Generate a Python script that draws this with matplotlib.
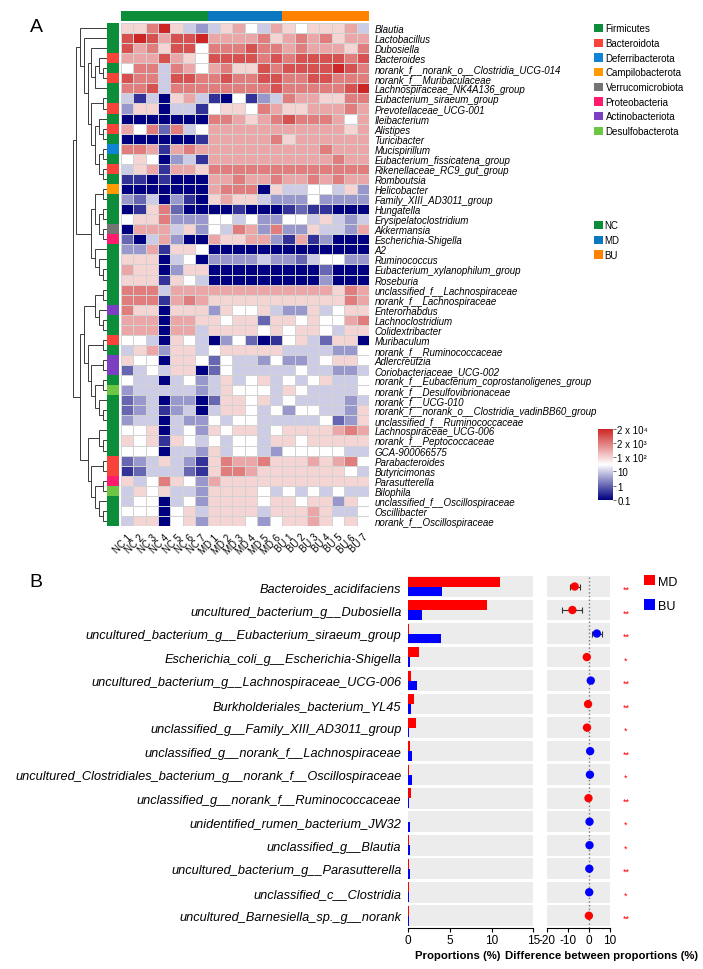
import numpy as np
import matplotlib.pyplot as plt
from matplotlib.colors import LinearSegmentedColormap, ListedColormap
from matplotlib.patches import Patch
from matplotlib.transforms import blended_transform_factory

plt.rcParams['font.family'] = ['Liberation Sans', 'DejaVu Sans']
plt.rcParams['axes.unicode_minus'] = False

W, H = 703, 970

# ---------------- panel A data ----------------
samples = ['NC 1', 'NC 2', 'NC 3', 'NC 4', 'NC 5', 'NC 6', 'NC 7',
           'MD 1', 'MD 2', 'MD 3', 'MD 4', 'MD 5', 'MD 6',
           'BU 1', 'BU 2', 'BU 3', 'BU 4', 'BU 5', 'BU 6', 'BU 7']
sample_group = ['NC'] * 7 + ['MD'] * 6 + ['BU'] * 7
groups = ['NC', 'MD', 'BU']
group_colors = ['#0b8d3a', '#0a77bf', '#ff8200']

genera = [
    'Blautia', 'Lactobacillus', 'Dubosiella', 'Bacteroides',
    'norank_f__norank_o__Clostridia_UCG-014', 'norank_f__Muribaculaceae',
    'Lachnospiraceae_NK4A136_group', 'Eubacterium_siraeum_group',
    'Prevotellaceae_UCG-001', 'Ileibacterium', 'Alistipes', 'Turicibacter',
    'Mucispirillum', 'Eubacterium_fissicatena_group', 'Rikenellaceae_RC9_gut_group',
    'Romboutsia', 'Helicobacter', 'Family_XIII_AD3011_group', 'Hungatella',
    'Erysipelatoclostridium', 'Akkermansia', 'Escherichia-Shigella', 'A2',
    'Ruminococcus', 'Eubacterium_xylanophilum_group', 'Roseburia',
    'unclassified_f__Lachnospiraceae', 'norank_f__Lachnospiraceae',
    'Enterorhabdus', 'Lachnoclostridium', 'Colidextribacter', 'Muribaculum',
    'norank_f__Ruminococcaceae', 'Adlercreutzia', 'Coriobacteriaceae_UCG-002',
    'norank_f__Eubacterium_coprostanoligenes_group', 'norank_f__Desulfovibrionaceae',
    'norank_f__UCG-010', 'norank_f__norank_o__Clostridia_vadinBB60_group',
    'unclassified_f__Ruminococcaceae', 'Lachnospiraceae_UCG-006',
    'norank_f__Peptococcaceae', 'GCA-900066575', 'Parabacteroides',
    'Butyricimonas', 'Parasutterella', 'Bilophila',
    'unclassified_f__Oscillospiraceae', 'Oscillibacter', 'norank_f__Oscillospiraceae',
]

phyla = ['Firmicutes', 'Bacteroidota', 'Deferribacterota', 'Campilobacterota',
         'Verrucomicrobiota', 'Proteobacteria', 'Actinobacteriota', 'Desulfobacterota']
phylum_colors = ['#0b8d3a', '#f8433a', '#0f84d4', '#ff9a00',
                 '#747474', '#ff1a6e', '#7b3fc2', '#6cc644']
# phylum index per genus (0 = Firmicutes ...)
genus_phylum = [0, 0, 0, 1, 0, 1, 0, 0, 1, 0,
                1, 0, 2, 0, 1, 0, 3, 0, 0, 0,
                4, 5, 0, 0, 0, 0, 0, 0, 6, 0,
                0, 1, 0, 6, 6, 0, 7, 0, 0, 0,
                0, 0, 0, 1, 1, 5, 7, 0, 0, 0]

# colour level per cell, 0 (0.1) .. 10 (2 x 10^4)
abund_level = [
    [6, 6, 8, 10, 6, 4, 3, 4, 6, 7, 5, 4, 7, 6, 5, 6, 6, 6, 7, 4],
    [9, 10, 9, 7, 9, 9, 10, 7, 7, 7, 7, 8, 6, 7, 8, 7, 8, 6, 7, 7],
    [9, 7, 8, 6, 9, 9, 5, 8, 8, 8, 9, 8, 8, 7, 8, 7, 7, 7, 6, 8],
    [7, 7, 7, 9, 7, 6, 5, 9, 9, 9, 9, 8, 9, 8, 9, 9, 9, 9, 8, 9],
    [5, 8, 8, 4, 8, 7, 5, 7, 8, 6, 6, 9, 8, 9, 9, 9, 9, 10, 9, 8],
    [9, 8, 8, 4, 9, 9, 8, 8, 9, 8, 8, 9, 9, 8, 8, 9, 9, 8, 8, 8],
    [8, 8, 9, 4, 8, 8, 8, 8, 8, 8, 8, 8, 9, 8, 8, 8, 8, 8, 9, 10],
    [4, 1, 4, 0, 6, 7, 4, 1, 0, 5, 1, 3, 4, 8, 7, 7, 6, 6, 8, 8],
    [3, 6, 6, 0, 4, 4, 1, 5, 6, 6, 5, 8, 7, 6, 6, 7, 7, 7, 8, 7],
    [0, 0, 0, 0, 0, 0, 0, 8, 8, 7, 6, 7, 8, 9, 8, 8, 8, 7, 5, 7],
    [7, 5, 8, 2, 8, 4, 5, 7, 7, 7, 7, 7, 7, 7, 7, 7, 7, 7, 6, 7],
    [0, 0, 0, 0, 0, 0, 1, 7, 7, 7, 7, 7, 8, 6, 7, 7, 7, 7, 7, 7],
    [8, 8, 7, 1, 7, 8, 7, 7, 7, 7, 7, 7, 7, 7, 7, 7, 8, 7, 7, 7],
    [5, 6, 5, 0, 3, 4, 1, 7, 7, 7, 7, 7, 7, 7, 7, 7, 7, 8, 7, 7],
    [4, 6, 7, 1, 7, 7, 6, 8, 8, 8, 8, 8, 8, 8, 8, 8, 8, 8, 8, 8],
    [1, 1, 0, 1, 0, 0, 0, 7, 7, 8, 7, 7, 8, 7, 7, 8, 7, 8, 7, 7],
    [0, 0, 0, 0, 0, 0, 0, 7, 8, 8, 8, 0, 6, 4, 4, 5, 5, 4, 6, 3],
    [3, 2, 4, 0, 3, 1, 0, 6, 7, 6, 6, 4, 3, 3, 3, 5, 3, 3, 3, 3],
    [0, 1, 6, 8, 2, 0, 0, 0, 0, 1, 0, 0, 0, 1, 2, 1, 1, 0, 0, 0],
    [5, 6, 6, 8, 3, 3, 3, 5, 5, 4, 5, 3, 3, 5, 5, 4, 6, 4, 3, 4],
    [0, 7, 7, 7, 4, 6, 3, 5, 4, 8, 7, 3, 8, 3, 3, 6, 4, 4, 3, 7],
    [2, 0, 4, 7, 3, 0, 0, 7, 6, 6, 7, 7, 3, 1, 7, 1, 3, 0, 0, 0],
    [3, 3, 7, 1, 6, 6, 5, 0, 0, 0, 0, 0, 0, 0, 0, 0, 0, 0, 0, 0],
    [6, 6, 6, 0, 4, 5, 0, 3, 3, 3, 3, 4, 3, 3, 2, 4, 5, 5, 3, 3],
    [7, 6, 6, 0, 3, 6, 6, 0, 0, 0, 0, 0, 0, 0, 0, 0, 2, 0, 0, 0],
    [6, 6, 6, 1, 6, 5, 4, 0, 0, 0, 0, 0, 0, 0, 0, 0, 3, 0, 0, 0],
    [8, 8, 8, 4, 7, 7, 7, 7, 7, 7, 7, 7, 7, 7, 7, 7, 7, 6, 8, 7],
    [8, 8, 8, 1, 7, 8, 7, 6, 6, 6, 6, 6, 6, 6, 6, 6, 6, 6, 8, 7],
    [8, 6, 6, 0, 6, 6, 6, 3, 6, 5, 5, 6, 4, 3, 3, 6, 4, 5, 6, 6],
    [7, 7, 7, 0, 7, 7, 6, 6, 5, 6, 6, 2, 6, 6, 5, 6, 5, 5, 7, 8],
    [7, 7, 7, 0, 7, 7, 4, 6, 6, 6, 6, 5, 6, 5, 6, 6, 5, 4, 6, 6],
    [5, 5, 4, 0, 6, 5, 4, 0, 3, 5, 2, 0, 1, 5, 6, 4, 2, 6, 6, 0],
    [4, 6, 7, 3, 6, 6, 4, 5, 6, 6, 6, 6, 6, 4, 4, 4, 4, 3, 3, 5],
    [6, 5, 5, 0, 6, 6, 5, 2, 5, 4, 4, 3, 5, 3, 3, 4, 5, 6, 6, 5],
    [2, 4, 5, 4, 6, 6, 0, 2, 5, 4, 4, 4, 4, 4, 5, 4, 4, 3, 3, 4],
    [5, 4, 4, 0, 4, 5, 3, 4, 6, 4, 5, 6, 4, 5, 4, 5, 6, 4, 4, 5],
    [3, 4, 4, 4, 4, 4, 3, 4, 6, 5, 5, 5, 4, 6, 5, 4, 4, 4, 4, 5],
    [2, 3, 4, 0, 3, 3, 0, 2, 6, 6, 5, 6, 4, 5, 4, 4, 4, 4, 3, 4],
    [2, 3, 4, 1, 3, 4, 0, 4, 6, 6, 5, 4, 5, 3, 5, 5, 4, 4, 3, 6],
    [3, 4, 4, 0, 4, 3, 3, 5, 4, 5, 5, 4, 4, 4, 4, 4, 5, 2, 3, 6],
    [5, 5, 6, 0, 4, 5, 3, 6, 5, 6, 6, 4, 5, 6, 6, 6, 6, 7, 8, 7],
    [6, 5, 6, 1, 6, 5, 4, 5, 4, 5, 5, 4, 6, 6, 5, 6, 6, 6, 6, 6],
    [5, 5, 5, 0, 4, 4, 3, 6, 4, 5, 5, 4, 3, 5, 5, 5, 5, 5, 4, 4],
    [2, 3, 4, 6, 4, 3, 1, 6, 8, 7, 7, 8, 6, 6, 6, 7, 6, 7, 8, 5],
    [1, 2, 4, 4, 4, 2, 1, 6, 8, 8, 7, 6, 6, 6, 6, 6, 6, 6, 5, 4],
    [6, 4, 5, 8, 6, 5, 3, 7, 6, 6, 6, 6, 6, 6, 6, 6, 6, 6, 6, 6],
    [4, 6, 5, 6, 4, 4, 3, 6, 6, 6, 6, 5, 4, 5, 4, 5, 4, 5, 4, 4],
    [4, 5, 5, 0, 4, 5, 3, 6, 6, 6, 6, 5, 6, 6, 5, 6, 6, 3, 6, 5],
    [5, 5, 5, 0, 5, 6, 4, 6, 6, 6, 6, 4, 6, 6, 6, 7, 6, 4, 4, 5],
    [4, 6, 6, 0, 5, 6, 3, 6, 6, 6, 5, 3, 5, 6, 6, 7, 6, 5, 6, 5],
]
cbar_labels = ['0.1', '1', '10', '1 x 10\u00b2', '2 x 10\u00b3', '2 x 10\u2074']

# row clustering (leaf = row index)
tree_a = (0, (1, ((2, ((3, (4, 5)), 6)), ((7, 8), ((9, (10, 11)), ((12, 13), (14, 15)))))))
tree_b = (((16, 17), ((18, 19), (20, 21))), (22, (23, (24, 25))))
tree_d = ((((26, 27), (28, (29, 30))), ((31, 32), ((33, 34), ((35, 36), (37, (38, 39)))))),
          ((40, (41, 42)), ((43, 44), ((45, 46), (47, (48, 49))))))
row_tree = ((tree_a, tree_b), tree_d)

# ---------------- panel B data ----------------
taxa_b = [
    'Bacteroides_acidifaciens',
    'uncultured_bacterium_g__Dubosiella',
    'uncultured_bacterium_g__Eubacterium_siraeum_group',
    'Escherichia_coli_g__Escherichia-Shigella',
    'uncultured_bacterium_g__Lachnospiraceae_UCG-006',
    'Burkholderiales_bacterium_YL45',
    'unclassified_g__Family_XIII_AD3011_group',
    'unclassified_g__norank_f__Lachnospiraceae',
    'uncultured_Clostridiales_bacterium_g__norank_f__Oscillospiraceae',
    'unclassified_g__norank_f__Ruminococcaceae',
    'unidentified_rumen_bacterium_JW32',
    'unclassified_g__Blautia',
    'uncultured_bacterium_g__Parasutterella',
    'unclassified_c__Clostridia',
    'uncultured_Barnesiella_sp._g__norank',
]
prop_md = [11.0, 9.5, 0.05, 1.3, 0.3, 0.65, 0.9, 0.2, 0.05, 0.35, 0.02, 0.03, 0.05, 0.03, 0.1]
prop_bu = [4.1, 1.7, 3.9, 0.15, 1.05, 0.3, 0.05, 0.5, 0.45, 0.05, 0.25, 0.2, 0.15, 0.05, 0.03]
diff_mean = [-6.9, -8.0, 3.7, -1.1, 0.8, -0.5, -1.0, 0.5, 0.4, -0.3, 0.2, 0.2, 0.1, 0.05, -0.1]
diff_low = [-9.3, -13.2, 1.4, -1.6, 0.4, -0.9, -1.5, 0.3, 0.2, -0.5, 0.1, 0.1, 0.0, 0.0, -0.2]
diff_high = [-4.5, -3.3, 6.4, -0.6, 1.2, -0.1, -0.5, 0.7, 0.6, -0.1, 0.3, 0.3, 0.2, 0.1, 0.0]
signif = ['**', '**', '**', '*', '**', '**', '*', '**', '*', '**', '*', '*', '**', '*', '**']


def px_axes(fig, x0, y0, x1, y1):
    return fig.add_axes([x0 / W, 1 - y1 / H, (x1 - x0) / W, (y1 - y0) / H])


def draw_tree(ax, node):
    if isinstance(node, int):
        return node, 0
    y1, h1 = draw_tree(ax, node[0])
    y2, h2 = draw_tree(ax, node[1])
    h = max(h1, h2) + 1
    ax.plot([h1, h, h, h2], [y1, y1, y2, y2], color='#3a3a3a', lw=0.7,
            solid_joinstyle='miter')
    return (y1 + y2) / 2, h


fig = plt.figure(figsize=(W / 100, H / 100), dpi=100)

# ---- heatmap ----
n_rows, n_cols = len(genera), len(samples)
vals = np.array(abund_level, dtype=float) / 2
cmap = LinearSegmentedColormap.from_list('nwr', ['#000080', '#ffffff', '#cd2626'])

ax_hm = px_axes(fig, 120.7, 24, 369, 527)
mesh = ax_hm.pcolormesh(np.arange(n_cols + 1) - 0.5, np.arange(n_rows + 1) - 0.5, vals,
                        cmap=cmap, vmin=0, vmax=5, edgecolors='#d2d2d2', linewidth=0.5)
ax_hm.set_xlim(-0.5, n_cols - 0.5)
ax_hm.set_ylim(n_rows - 0.5, -0.5)
ax_hm.yaxis.tick_right()
ax_hm.set_yticks(np.arange(n_rows))
ax_hm.set_yticklabels(genera, fontsize=7, style='italic')
ax_hm.set_xticks(np.arange(n_cols))
ax_hm.set_xticklabels(samples, fontsize=7, rotation=45, ha='right', va='top',
                      rotation_mode='anchor')
ax_hm.tick_params(length=0, pad=4)
for s in ax_hm.spines.values():
    s.set_visible(False)

# column annotation
ax_col = px_axes(fig, 120.7, 11.7, 369, 21.7)
col_codes = np.array([[groups.index(g) for g in sample_group]])
ax_col.pcolormesh(np.arange(n_cols + 1) - 0.5, [0, 1], col_codes,
                  cmap=ListedColormap(group_colors), vmin=-0.5, vmax=2.5)
ax_col.set_xlim(-0.5, n_cols - 0.5)
ax_col.axis('off')

# row annotation
ax_row = px_axes(fig, 107, 24, 118.5, 527)
ax_row.pcolormesh([0, 1], np.arange(n_rows + 1) - 0.5, np.array(genus_phylum)[:, None],
                  cmap=ListedColormap(phylum_colors), vmin=-0.5, vmax=len(phyla) - 0.5)
ax_row.set_ylim(n_rows - 0.5, -0.5)
ax_row.axis('off')

# dendrogram
ax_den = px_axes(fig, 72.5, 24, 106.5, 527)
_, root_h = draw_tree(ax_den, row_tree)
ax_den.set_xlim(root_h, 0)
ax_den.set_ylim(n_rows - 0.5, -0.5)
ax_den.axis('off')

# legends
fig.legend(handles=[Patch(facecolor=c, label=p) for p, c in zip(phyla, phylum_colors)],
           loc='upper left', bbox_to_anchor=(594 / W, 1 - 24.5 / H), frameon=False,
           fontsize=7, handlelength=0.95, handleheight=0.95, handletextpad=0.25,
           labelspacing=0.48, borderpad=0, borderaxespad=0)
fig.legend(handles=[Patch(facecolor=c, label=g) for g, c in zip(groups, group_colors)],
           loc='upper left', bbox_to_anchor=(594 / W, 1 - 221.5 / H), frameon=False,
           fontsize=7, handlelength=0.95, handleheight=0.95, handletextpad=0.15,
           labelspacing=0.48, borderpad=0, borderaxespad=0)

cax = px_axes(fig, 598.3, 430, 613.3, 500.7)
cb = fig.colorbar(mesh, cax=cax, ticks=np.arange(6))
cb.ax.set_yticklabels(cbar_labels, fontsize=7)
cb.ax.tick_params(length=2, width=0.6, pad=1, color='#555555')
cb.outline.set_visible(False)

fig.text(36 / W, 1 - 27 / H, 'A', fontsize=14, ha='center', va='center')

# ---- panel B ----
n_b = len(taxa_b)
ypos = np.arange(n_b)
band = '#ececec'

ax_bar = px_axes(fig, 408.3, 575.75, 533.3, 928.5)
for y in ypos:
    ax_bar.axhspan(y - 0.44, y + 0.44, color=band, lw=0, zorder=0)
ax_bar.barh(ypos - 0.21, prop_md, height=0.42, color='#ff0000', zorder=2)
ax_bar.barh(ypos + 0.21, prop_bu, height=0.42, color='#0000ff', zorder=2)
ax_bar.set_xlim(0, 15)
ax_bar.set_ylim(n_b - 0.5, -0.5)
ax_bar.set_yticks(ypos)
ax_bar.set_yticklabels(taxa_b, fontsize=9.2, style='italic')
ax_bar.set_xticks([0, 5, 10, 15])
ax_bar.tick_params(axis='y', length=0, pad=5)
ax_bar.tick_params(axis='x', labelsize=8.5, length=3, width=0.8, pad=2)
for s in ['top', 'right', 'left']:
    ax_bar.spines[s].set_visible(False)

ax_dot = px_axes(fig, 547.3, 575.75, 610, 928.5)
for y in ypos:
    ax_dot.axhspan(y - 0.44, y + 0.44, color=band, lw=0, zorder=0)
ax_dot.axvline(0, color='#777777', ls=':', lw=1, zorder=1)
dm = np.array(diff_mean)
xerr = [dm - np.array(diff_low), np.array(diff_high) - dm]
ax_dot.errorbar(dm, ypos, xerr=xerr, fmt='none', ecolor='#333333', elinewidth=0.8,
                capsize=2, capthick=0.8, zorder=2)
dot_colors = ['#ff0000' if d < 0 else '#0000ff' for d in diff_mean]
ax_dot.scatter(dm, ypos, s=36, c=dot_colors, zorder=3, linewidths=0)
ax_dot.set_xlim(-20, 10)
ax_dot.set_ylim(n_b - 0.5, -0.5)
ax_dot.set_yticks([])
ax_dot.set_xticks([-20, -10, 0, 10])
ax_dot.tick_params(axis='x', labelsize=8.5, length=3, width=0.8, pad=2)
for s in ['top', 'right', 'left']:
    ax_dot.spines[s].set_visible(False)

tr = blended_transform_factory(ax_dot.transAxes, ax_dot.transData)
for y, s in zip(ypos, signif):
    ax_dot.text(1.255, y + 0.12, s, transform=tr, color='#ff0000', fontsize=6.5,
                ha='center', va='center')

fig.text(457.5 / W, 1 - 956 / H, 'Proportions (%)', fontsize=8.2, fontweight='bold',
         ha='center', va='center')
fig.text(602 / W, 1 - 956 / H, 'Difference between proportions (%)', fontsize=8.2,
         fontweight='bold', ha='center', va='center')

fig.legend(handles=[Patch(facecolor='#ff0000', label='MD'), Patch(facecolor='#0000ff', label='BU')],
           loc='upper left', bbox_to_anchor=(644 / W, 1 - 576 / H), frameon=False,
           fontsize=9, handlelength=0.9, handleheight=0.9, handletextpad=0.25,
           labelspacing=0.95, borderpad=0, borderaxespad=0)

fig.text(36 / W, 1 - 583 / H, 'B', fontsize=14, ha='center', va='center')

fig.savefig('out.png', dpi=100)
